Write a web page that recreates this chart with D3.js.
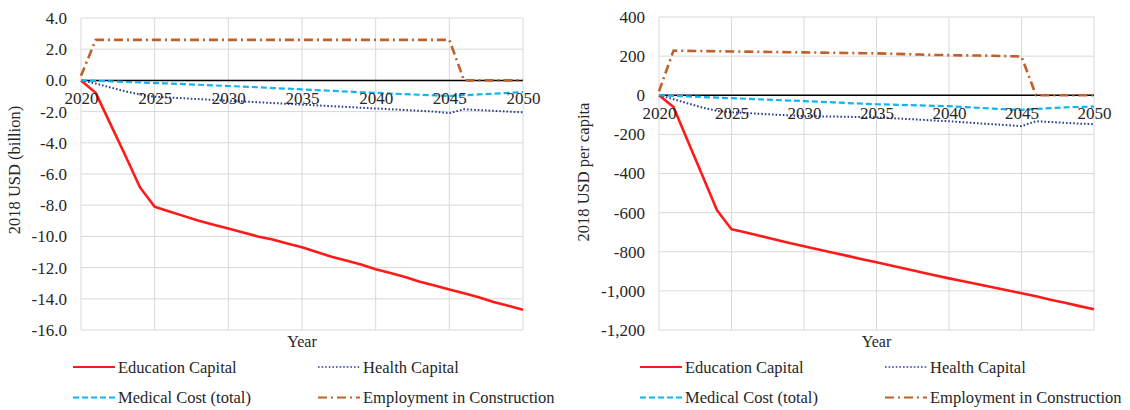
<!DOCTYPE html>
<html>
<head>
<meta charset="utf-8">
<script src="https://cdn.jsdelivr.net/npm/d3@7/dist/d3.min.js"></script>
<style>
  html, body { margin: 0; padding: 0; background: #fff; }
  svg { display: block; }
  svg text { font-family: "Liberation Serif", "Times New Roman", Tinos, serif !important; }
</style>
</head>
<body>
<svg id="chart" width="1130" height="410"></svg>
<script>
// Years on the horizontal axis
const years = d3.range(2020, 2051);
const yearTicks = [2020, 2025, 2030, 2035, 2040, 2045, 2050];

// Total impact, 2018 USD (billion)
const totalEducation = [0, -0.8, -2.8, -4.8, -6.85, -8.1, -8.4, -8.7, -9.0, -9.25, -9.5, -9.75, -10.0, -10.2, -10.45, -10.7,
  -11.0, -11.3, -11.55, -11.8, -12.1, -12.35, -12.6, -12.9, -13.15, -13.4, -13.65, -13.9, -14.2, -14.45, -14.7];
const totalHealth = [0, -0.2, -0.45, -0.7, -0.9, -1.05, -1.1, -1.15, -1.2, -1.25, -1.3, -1.35, -1.4, -1.45, -1.5, -1.55,
  -1.6, -1.65, -1.7, -1.75, -1.8, -1.85, -1.9, -1.95, -2.0, -2.1, -1.85, -1.9, -1.95, -2.0, -2.05];
const totalMedical = [0, -0.03, -0.06, -0.1, -0.13, -0.17, -0.2, -0.24, -0.28, -0.32, -0.36, -0.4, -0.44, -0.49, -0.53, -0.58,
  -0.62, -0.67, -0.71, -0.76, -0.8, -0.84, -0.88, -0.92, -0.96, -1.0, -0.95, -0.9, -0.85, -0.8, -0.75];
const totalEmployment = [0.3, 2.6, 2.6, 2.6, 2.6, 2.6, 2.6, 2.6, 2.6, 2.6, 2.6, 2.6, 2.6, 2.6, 2.6, 2.6,
  2.6, 2.6, 2.6, 2.6, 2.6, 2.6, 2.6, 2.6, 2.6, 2.6, 0, 0, 0, 0, 0];
const totalTicks = [4, 2, 0, -2, -4, -6, -8, -10, -12, -14, -16];

// Per-capita impact, 2018 USD
const capitaEducation = [0, -60, -236, -412, -588, -685, -702, -720, -737, -755, -772, -788, -805, -821, -838, -854,
  -870, -887, -903, -920, -936, -951, -966, -982, -997, -1012, -1028, -1045, -1061, -1078, -1094];
const capitaHealth = [0, -20, -42, -63, -80, -87, -91, -95, -99, -103, -107, -108, -109, -110, -112, -113,
  -117, -121, -125, -129, -133, -138, -143, -148, -153, -158, -133, -137, -141, -145, -148];
const capitaMedical = [0, -3, -6, -9, -12, -15, -18, -21, -24, -27, -30, -33, -36, -40, -43, -46,
  -48, -50, -52, -54, -56, -60, -64, -68, -72, -75, -70, -66, -62, -60, -58];
const capitaEmployment = [20, 228, 227, 226, 225, 224, 223, 222, 221, 220, 219, 218, 217, 216, 215, 214,
  212, 210, 208, 206, 205, 204, 203, 202, 200, 198, 0, 0, 0, 0, 0];
const capitaTicks = [400, 200, 0, -200, -400, -600, -800, -1000, -1200];

const seriesNames = ["Education Capital", "Health Capital", "Medical Cost (total)", "Employment in Construction"];

const styles = [
  { color: "#ff1a1a", width: 2.6, dash: null },
  { color: "#2a3f8f", width: 2, dash: "1.6,2" },
  { color: "#12b4f0", width: 2.2, dash: "6,3" },
  { color: "#c0602a", width: 2.6, dash: "9,4,2,4" }
];

const FONT = '"Liberation Serif", "Times New Roman", Tinos, serif';
const INK = "#262626";

const fmt = d3.formatLocale({ decimal: ".", thousands: ",", grouping: [3], currency: ["$", ""], minus: "-" });

const svg = d3.select("#chart");

function label(sel, size) {
  return sel.attr("font-family", FONT).attr("font-size", size)
    .style("font-family", FONT).style("font-size", size + "px").style("fill", INK);
}

function drawPanel(opt) {
  const g = svg.append("g");
  const x = d3.scaleLinear().domain([2020, 2050]).range([opt.left, opt.right]);
  const y = d3.scaleLinear().domain([opt.yMin, opt.yMax]).range([opt.bottom, opt.top]);

  // Gridlines
  g.append("g").selectAll("line").data(opt.yTicks).join("line")
    .attr("x1", opt.left).attr("x2", opt.right)
    .attr("y1", d => y(d)).attr("y2", d => y(d))
    .attr("stroke", "#d9d9d9").attr("stroke-width", 1);
  g.append("g").selectAll("line").data(yearTicks).join("line")
    .attr("x1", d => x(d)).attr("x2", d => x(d))
    .attr("y1", opt.top).attr("y2", opt.bottom)
    .attr("stroke", "#d9d9d9").attr("stroke-width", 1);

  // Y axis labels
  const yAxis = d3.axisLeft(y).tickValues(opt.yTicks).tickSize(0).tickPadding(14).tickFormat(opt.format);
  const ya = g.append("g").attr("transform", `translate(${opt.left},0)`).call(yAxis);
  ya.attr("font-family", FONT).attr("font-size", 17);
  ya.select(".domain").remove();
  label(ya.selectAll("text"), 17);

  // Zero line
  g.append("line").attr("x1", opt.left).attr("x2", opt.right)
    .attr("y1", y(0)).attr("y2", y(0)).attr("stroke", "#000").attr("stroke-width", 1.5);

  // Series
  const line = d3.line().x((d, i) => x(years[i])).y(d => y(d));
  opt.series.forEach((vals, k) => {
    const s = styles[k];
    g.append("path").datum(vals)
      .attr("d", line).attr("fill", "none")
      .attr("stroke", s.color).attr("stroke-width", s.width)
      .attr("stroke-dasharray", s.dash).attr("stroke-linejoin", "round");
  });

  // Year labels next to the zero line
  const xAxis = d3.axisBottom(x).tickValues(yearTicks).tickSize(0).tickPadding(12).tickFormat(d3.format("d"));
  const xa = g.append("g").attr("transform", `translate(0,${y(0)})`).call(xAxis);
  xa.attr("font-family", FONT).attr("font-size", 17);
  xa.select(".domain").remove();
  label(xa.selectAll("text"), 17);

  // Axis titles
  label(g.append("text"), 16).attr("x", (opt.left + opt.right) / 2).attr("y", 347)
    .attr("text-anchor", "middle").text("Year");
  label(g.append("text"), 16.5).attr("transform", `translate(${opt.titleX},${opt.titleY}) rotate(-90)`)
    .attr("text-anchor", "middle").text(opt.yTitle);

  // Legend
  const cols = [opt.legendX, opt.legendX + 245];
  const rows = [367, 397.5];
  seriesNames.forEach((name, k) => {
    const lx = cols[k % 2], ly = rows[Math.floor(k / 2)];
    const s = styles[k];
    g.append("line").attr("x1", lx).attr("x2", lx + 42).attr("y1", ly).attr("y2", ly)
      .attr("stroke", s.color).attr("stroke-width", k === 1 ? 1.6 : 2.2)
      .attr("stroke-dasharray", s.dash);
    label(g.append("text"), 16.5).attr("x", lx + 45).attr("y", ly + 5.5).text(name);
  });
}

drawPanel({
  left: 81, right: 523, top: 18, bottom: 330,
  yMin: -16, yMax: 4, yTicks: totalTicks, format: fmt.format(".1f"),
  yTitle: "2018 USD (billion)", titleX: 20, titleY: 170,
  legendX: 73,
  series: [totalEducation, totalHealth, totalMedical, totalEmployment]
});

drawPanel({
  left: 659, right: 1094, top: 17, bottom: 330,
  yMin: -1200, yMax: 400, yTicks: capitaTicks, format: fmt.format(",.0f"),
  yTitle: "2018 USD per capita", titleX: 589, titleY: 172,
  legendX: 640,
  series: [capitaEducation, capitaHealth, capitaMedical, capitaEmployment]
});
</script>
</body>
</html>
